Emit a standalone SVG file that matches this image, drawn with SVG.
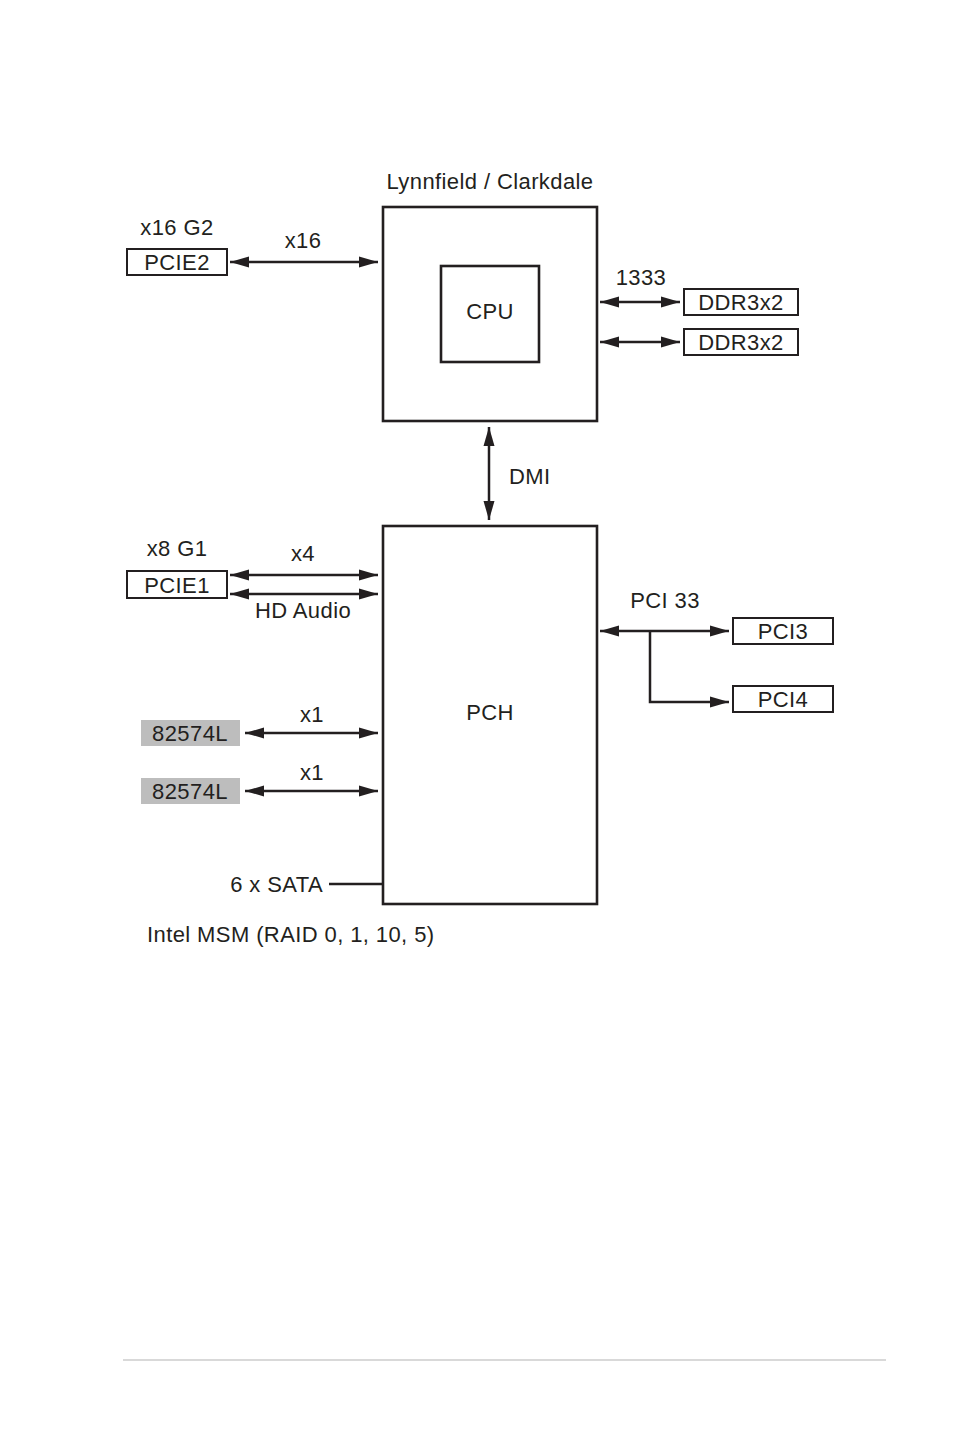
<svg xmlns="http://www.w3.org/2000/svg" width="954" height="1437" viewBox="0 0 954 1437">
<style>
text{font-family:"Liberation Sans",Arial,sans-serif;font-size:22px;letter-spacing:0.4px;fill:#231f20}
.m{text-anchor:middle}
.box{fill:#fff;stroke:#231f20;stroke-width:2}
.big{fill:#fff;stroke:#231f20;stroke-width:2.6}
.gray{fill:#bdbdbd;stroke:none}
.ln{fill:none;stroke:#231f20;stroke-width:2.5}
.ar{marker-start:url(#ah);marker-end:url(#ah)}
</style>
<defs>
<marker id="ah" markerUnits="userSpaceOnUse" markerWidth="20" markerHeight="12" refX="19" refY="6" orient="auto-start-reverse" viewBox="0 0 20 12">
<path d="M0,0.5 L19,6 L0,11.5 z" fill="#231f20"/>
</marker>
<marker id="a1" markerUnits="userSpaceOnUse" markerWidth="20" markerHeight="12" refX="19" refY="6" orient="auto" viewBox="0 0 20 12">
<path d="M0,0.5 L19,6 L0,11.5 z" fill="#231f20"/>
</marker>
</defs>
<g id="cpu-block">
<text class="m" x="490" y="189">Lynnfield / Clarkdale</text>
<rect class="big" x="383" y="207" width="214" height="214"/>
<rect class="big" x="441" y="266" width="98" height="96"/>
<text class="m" x="490" y="319">CPU</text>
</g>
<g id="pcie2">
<text class="m" x="177" y="235">x16 G2</text>
<rect class="box" x="127" y="249" width="100" height="26"/>
<text class="m" x="177" y="270">PCIE2</text>
</g>
<g id="ddr1">
<rect class="box" x="684" y="289" width="114" height="26"/>
<text class="m" x="741" y="310">DDR3x2</text>
</g>
<g id="ddr2">
<rect class="box" x="684" y="329" width="114" height="26"/>
<text class="m" x="741" y="350">DDR3x2</text>
</g>
<g id="pch">
<rect class="big" x="383" y="526" width="214" height="378"/>
<text class="m" x="490" y="720">PCH</text>
</g>
<g id="pcie1">
<text class="m" x="177" y="556">x8 G1</text>
<rect class="box" x="127" y="571" width="100" height="27"/>
<text class="m" x="177" y="593">PCIE1</text>
</g>
<g id="pci3">
<rect class="box" x="733" y="618" width="100" height="26"/>
<text class="m" x="783" y="639">PCI3</text>
</g>
<g id="pci4">
<rect class="box" x="733" y="686" width="100" height="26"/>
<text class="m" x="783" y="707">PCI4</text>
</g>
<g id="lan1">
<rect class="gray" x="141" y="720" width="99" height="26"/>
<text class="m" x="190" y="741">82574L</text>
</g>
<g id="lan2">
<rect class="gray" x="141" y="778" width="99" height="26"/>
<text class="m" x="190" y="799">82574L</text>
</g>
<g id="sata">
<text x="323" y="892" text-anchor="end">6 x SATA</text>
<text x="147" y="942">Intel MSM (RAID 0, 1, 10, 5)</text>
</g>
<g id="connectors">
<line class="ln ar" x1="230" y1="262" x2="378" y2="262"/>
<text class="m" x="303" y="248">x16</text>
<line class="ln ar" x1="600" y1="302" x2="680" y2="302"/>
<text class="m" x="641" y="285">1333</text>
<line class="ln ar" x1="600" y1="342" x2="680" y2="342"/>
<line class="ln ar" x1="489" y1="427" x2="489" y2="520"/>
<text x="509" y="484">DMI</text>
<line class="ln ar" x1="230" y1="575" x2="378" y2="575"/>
<text class="m" x="303" y="561">x4</text>
<line class="ln ar" x1="230" y1="594" x2="378" y2="594"/>
<text class="m" x="303" y="618">HD Audio</text>
<line class="ln ar" x1="600" y1="631" x2="729" y2="631"/>
<text class="m" x="665" y="608">PCI 33</text>
<polyline class="ln" points="650,631 650,702 729,702" marker-end="url(#a1)"/>
<line class="ln ar" x1="245" y1="733" x2="378" y2="733"/>
<text class="m" x="312" y="722">x1</text>
<line class="ln ar" x1="245" y1="791" x2="378" y2="791"/>
<text class="m" x="312" y="780">x1</text>
<line class="ln" x1="329" y1="884" x2="383" y2="884"/>
</g>
<line x1="123" y1="1360" x2="886" y2="1360" stroke="#d9d9d9" stroke-width="2"/>
</svg>
